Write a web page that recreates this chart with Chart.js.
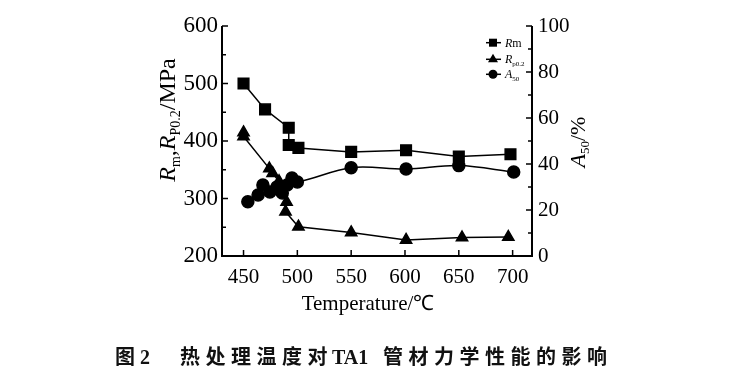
<!DOCTYPE html>
<html><head><meta charset="utf-8">
<script src="https://cdn.jsdelivr.net/npm/chart.js@4"></script>
<style>
html,body{margin:0;padding:0;background:#fff;}
#wrap{position:relative;width:730px;height:387px;overflow:hidden;}
#c{position:absolute;left:0;top:0;}
.cap{position:absolute;top:345px;font-family:"Liberation Serif","Noto Sans CJK SC",serif;font-weight:700;font-size:20px;line-height:24px;color:#111;white-space:nowrap;letter-spacing:5.5px;}
</style></head><body>
<div id="wrap">
<canvas id="c" width="730" height="387"></canvas>
<div class="cap" style="left:115px;letter-spacing:0">图 2</div>
<div class="cap" style="left:180px">热处理温度对</div>
<div class="cap" style="left:332px;letter-spacing:0">TA1</div>
<div class="cap" style="left:383px">管材力学性能的影响</div>
</div>
<script>
// ---- data ----
const rmTemps  = [450, 470, 492, 492, 501, 550, 601, 650, 698];
const rmValues = [500, 455, 423, 393, 388, 381, 384, 373, 377];

const rpTemps  = [450, 450, 474, 477, 483, 490, 489, 501, 550, 601, 653, 696];
const rpValues = [415, 408, 352, 344, 330, 294, 277, 251, 241, 228, 232, 233];

const aTemps  = [454, 463.5, 468, 474.5, 481, 486, 490.5, 495, 500, 550, 601, 650, 701];
const aValues = [23.6, 26.5, 30.9, 27.8, 30, 27.4, 30.9, 33.9, 32.2, 38.4, 37.8, 39.3, 36.5];

const xTicks = [450, 500, 550, 600, 650, 700];
const yTicks = [200, 300, 400, 500, 600];
const yMinor = [250, 350, 450, 550];
const y1Ticks = [0, 20, 40, 60, 80, 100];
const y1Minor = [10, 30, 50, 70, 90];

const SERIF = '"Liberation Serif", "Times New Roman", serif';

function pts(xs, ys){ return xs.map((x,i)=>({x:x, y:ys[i]})); }

function drawRich(ctx, parts, cx, cy, rot){
  ctx.save();
  let w = 0;
  parts.forEach(p=>{ ctx.font = p.font; p.w = ctx.measureText(p.t).width; w += p.w; });
  ctx.translate(cx, cy);
  if (rot) ctx.rotate(rot);
  ctx.fillStyle = '#000';
  ctx.textBaseline = 'alphabetic';
  ctx.textAlign = 'left';
  let x = -w/2;
  parts.forEach(p=>{ ctx.font = p.font; ctx.fillText(p.t, x, p.dy||0); x += p.w; });
  ctx.restore();
}

const framePlugin = {
  id: 'frame',
  afterDatasetsDraw(chart){
    const {ctx, chartArea:{left,right,top,bottom}, scales:{x,y,y1}} = chart;
    ctx.save();
    ctx.strokeStyle = '#000';
    ctx.lineWidth = 2;
    ctx.beginPath();
    ctx.moveTo(left, top); ctx.lineTo(left, bottom); ctx.lineTo(right, bottom); ctx.lineTo(right, top);
    ctx.stroke();
    ctx.lineWidth = 1.5;
    ctx.beginPath();
    yTicks.forEach(v=>{ const p=y.getPixelForValue(v); ctx.moveTo(left,p); ctx.lineTo(left+6,p); });
    yMinor.forEach(v=>{ const p=y.getPixelForValue(v); ctx.moveTo(left,p); ctx.lineTo(left+4,p); });
    y1Ticks.forEach(v=>{ const p=y1.getPixelForValue(v); ctx.moveTo(right,p); ctx.lineTo(right-6,p); });
    y1Minor.forEach(v=>{ const p=y1.getPixelForValue(v); ctx.moveTo(right,p); ctx.lineTo(right-4,p); });
    xTicks.forEach(v=>{ const p=x.getPixelForValue(v); ctx.moveTo(p,bottom); ctx.lineTo(p,bottom-6); });
    ctx.stroke();

    // legend
    const lx = 493, rows = [42.7, 59.3, 74.3];
    ctx.lineWidth = 1.5;
    ctx.fillStyle = '#000';
    rows.forEach((ry, i)=>{
      ctx.beginPath(); ctx.moveTo(lx-7, ry); ctx.lineTo(lx+8, ry); ctx.stroke();
      ctx.beginPath();
      if (i===0){ ctx.rect(lx-4, ry-4, 8, 8); }
      else if (i===1){ ctx.moveTo(lx, ry-5.5); ctx.lineTo(lx+5, ry+3); ctx.lineTo(lx-5, ry+3); ctx.closePath(); }
      else { ctx.arc(lx, ry, 4.5, 0, Math.PI*2); }
      ctx.fill();
    });
    ctx.restore();
    const it = 'italic 12px ' + SERIF, nf = '12px ' + SERIF, sf = '7px ' + SERIF;
    const legendText = [
      [{t:'R',font:it},{t:'m',font:nf}],
      [{t:'R',font:it},{t:'p0.2',font:sf,dy:3}],
      [{t:'A',font:it},{t:'50',font:sf,dy:3}]
    ];
    legendText.forEach((parts,i)=>{
      ctx.save();
      let xx = 505;
      ctx.fillStyle = '#000'; ctx.textBaseline='alphabetic';
      parts.forEach(p=>{ ctx.font=p.font; ctx.fillText(p.t, xx, rows[i]+4+(p.dy||0)); xx += ctx.measureText(p.t).width; });
      ctx.restore();
    });

    // axis titles
    const big = 24, sub = 14;
    drawRich(ctx, [
      {t:'R', font:'italic '+big+'px '+SERIF},
      {t:'m', font:sub+'px '+SERIF, dy:5},
      {t:',', font:big+'px '+SERIF},
      {t:'R', font:'italic '+big+'px '+SERIF},
      {t:'P0.2', font:sub+'px '+SERIF, dy:5},
      {t:'/MPa', font:big+'px '+SERIF}
    ], 175, 120, -Math.PI/2);
    drawRich(ctx, [
      {t:'A', font:'italic 22px '+SERIF},
      {t:'50', font:'13px '+SERIF, dy:4},
      {t:'/%', font:'22px '+SERIF}
    ], 585, 142, -Math.PI/2);
    drawRich(ctx, [
      {t:'Temperature/℃', font:'21px '+SERIF}
    ], 368, 310, 0);
  }
};

const common = { showLine:true, borderColor:'#000', backgroundColor:'#000', pointBorderColor:'#000', pointBackgroundColor:'#000', borderWidth:1.5, clip:false };

new Chart(document.getElementById('c'), {
  type: 'scatter',
  data: {
    datasets: [
      Object.assign({label:'Rm', data: pts(rmTemps, rmValues), yAxisID:'y', pointStyle:'rect', pointRadius:7.5, tension:0}, common),
      Object.assign({label:'Rp0.2', data: pts(rpTemps, rpValues), yAxisID:'y', pointStyle:'triangle', pointRadius:6.5, tension:0}, common),
      Object.assign({label:'A50', data: pts(aTemps, aValues), yAxisID:'y1', pointStyle:'circle', pointRadius:6, tension:0.35}, common)
    ]
  },
  options: {
    responsive:false, animation:false, devicePixelRatio:1,
    layout:{padding:{top:26,left:0,right:0,bottom:0}},
    plugins:{legend:{display:false}, tooltip:{enabled:false}},
    scales:{
      x:{type:'linear', min:430, max:718,
         afterBuildTicks:s=>{ s.ticks = xTicks.map(v=>({value:v})); },
         afterFit:s=>{ s.height = 131; },
         grid:{display:false, drawTicks:false}, border:{display:false},
         ticks:{color:'#000', padding:9, font:{family:SERIF, size:21}, maxRotation:0}},
      y:{type:'linear', position:'left', min:200, max:600,
         afterBuildTicks:s=>{ s.ticks = yTicks.map(v=>({value:v})); },
         afterFit:s=>{ s.width = 222; },
         grid:{display:false, drawTicks:false}, border:{display:false},
         ticks:{color:'#000', padding:4, font:{family:SERIF, size:23}}},
      y1:{type:'linear', position:'right', min:0, max:100,
         afterBuildTicks:s=>{ s.ticks = y1Ticks.map(v=>({value:v})); },
         afterFit:s=>{ s.width = 198; },
         grid:{display:false, drawTicks:false}, border:{display:false},
         ticks:{color:'#000', padding:6, font:{family:SERIF, size:21}}}
    }
  },
  plugins:[framePlugin]
});
</script>
</body></html>
